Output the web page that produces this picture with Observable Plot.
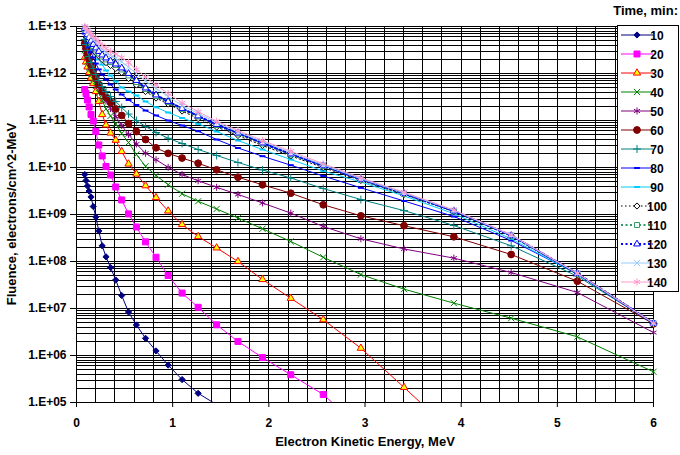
<!DOCTYPE html>
<html><head><meta charset="utf-8">
<script src="https://cdn.jsdelivr.net/npm/d3@7"></script>
<script src="https://cdn.jsdelivr.net/npm/@observablehq/plot@0.6"></script>
<style>
body{margin:0;background:#fff;}
#chart{position:relative;width:680px;height:455px;}
</style></head><body><div id="chart"></div>
<script>
// ---- data ----
const energy = [0.086, 0.099, 0.114, 0.131, 0.151, 0.174, 0.201, 0.232, 0.267, 0.307, 0.354, 0.408, 0.47, 0.541, 0.623, 0.718, 0.827, 0.953, 1.098, 1.265, 1.457, 1.679, 1.934, 2.228, 2.566, 2.957, 3.406, 3.924, 4.52, 5.208, 6.0];
const times = [10, 20, 30, 40, 50, 60, 70, 80, 90, 100, 110, 120, 130, 140];
const f10 = [7.10e9, 5.28e9, 4.04e9, 3.16e9, 2.36e9, 1.48e9, 8.85e8, 4.46e8, 2.16e8, 1.26e8, 7.45e7, 4.04e7, 1.89e7, 8.43e6, 4.46e6, 2.32e6, 1.25e6, 6.25e5, 3.08e5, 1.57e5, 9.0e4, null, null, null, null, null, null, null, null, null, null];
const f20 = [4.57e11, 3.75e11, 2.73e11, 1.94e11, 1.34e11, 9.76e10, 5.83e10, 3.01e10, 1.76e10, 1.05e10, 6.92e9, 3.85e9, 2.04e9, 1.03e9, 5.42e8, 2.62e8, 1.23e8, 5.04e7, 2.13e7, 1.06e7, 4.50e6, 1.99e6, 9.06e5, 3.90e5, 1.48e5, 2.80e4, null, null, null, null, null];
const f30 = [2.19e12, 1.76e12, 1.38e12, 1.05e12, 8.02e11, 6.12e11, 4.14e11, 2.54e11, 1.34e11, 8.02e10, 5.42e10, 3.81e10, 2.19e10, 1.19e10, 7.28e9, 4.10e9, 2.30e9, 1.19e9, 6.12e8, 3.40e8, 1.95e8, 1.00e8, 4.14e7, 1.65e7, 5.78e6, 1.43e6, 2.10e5, 2.19e4, null, null, null];
const f40 = [3.10e12, 2.40e12, 1.80e12, 1.35e12, 1.00e12, 7.50e11, 5.40e11, 3.85e11, 2.67e11, 1.77e11, 1.25e11, 8.43e10, 5.29e10, 3.40e10, 1.89e10, 1.06e10, 6.76e9, 4.31e9, 2.76e9, 1.91e9, 1.31e9, 8.43e8, 4.97e8, 2.67e8, 1.23e8, 5.28e7, 2.58e7, 1.30e7, 6.22e6, 2.50e6, 4.50e5];
const f50 = [3.60e12, 2.90e12, 2.25e12, 1.72e12, 1.30e12, 9.80e11, 7.20e11, 5.20e11, 3.75e11, 2.60e11, 1.80e11, 1.22e11, 7.83e10, 5.04e10, 3.16e10, 2.01e10, 1.46e10, 1.01e10, 7.10e9, 5.21e9, 3.79e9, 2.67e9, 1.76e9, 1.07e9, 5.56e8, 3.04e8, 1.85e8, 1.18e8, 5.83e7, 2.19e7, 3.08e6];
const f60 = [4.35e12, 3.40e12, 2.54e12, 1.99e12, 1.48e12, 1.16e12, 8.63e11, 5.83e11, 4.14e11, 3.08e11, 2.41e11, 1.76e11, 1.28e11, 8.63e10, 5.83e10, 3.94e10, 2.62e10, 2.00e10, 1.59e10, 1.23e10, 8.93e9, 6.22e9, 4.29e9, 2.84e9, 1.61e9, 9.38e8, 5.78e8, 3.36e8, 1.41e8, 3.81e7, 4.72e6];
const f70 = [5.29e12, 4.14e12, 3.08e12, 2.30e12, 1.71e12, 1.28e12, 9.52e11, 7.10e11, 5.29e11, 4.14e11, 3.24e11, 2.54e11, 1.89e11, 1.37e11, 1.00e11, 7.45e10, 5.56e10, 4.20e10, 3.24e10, 2.41e10, 1.80e10, 1.28e10, 8.85e9, 5.98e9, 3.57e9, 2.08e9, 1.21e9, 5.83e8, 2.16e8, 4.86e7, 4.86e6];
const f80 = [7.10e12, 5.83e12, 4.57e12, 3.57e12, 2.80e12, 2.19e12, 1.63e12, 1.22e12, 9.52e11, 7.45e11, 5.83e11, 4.57e11, 3.57e11, 2.73e11, 2.14e11, 1.63e11, 1.28e11, 1.00e11, 7.83e10, 5.92e10, 3.94e10, 2.60e10, 1.74e10, 1.12e10, 6.59e9, 3.70e9, 1.94e9, 9.06e8, 2.80e8, 5.47e7, 4.86e6];
const f90 = [8.22e12, 7.10e12, 5.83e12, 4.80e12, 3.94e12, 3.24e12, 2.54e12, 1.99e12, 1.55e12, 1.16e12, 9.06e11, 6.76e11, 5.04e11, 4.14e11, 3.40e11, 2.54e11, 1.91e11, 1.48e11, 1.13e11, 8.51e10, 5.83e10, 3.75e10, 2.41e10, 1.48e10, 8.43e9, 4.91e9, 2.48e9, 1.04e9, 3.04e8, 5.28e7, 4.86e6];
const f100 = [8.22e12, 6.92e12, 5.83e12, 4.91e12, 4.14e12, 3.40e12, 2.80e12, 2.36e12, 1.99e12, 1.71e12, 1.48e12, 1.28e12, 1.05e12, 7.83e11, 5.69e11, 4.14e11, 3.01e11, 2.24e11, 1.59e11, 1.10e11, 7.27e10, 4.80e10, 2.94e10, 1.76e10, 1.00e10, 5.29e9, 2.66e9, 1.16e9, 3.49e8, 5.42e7, 4.80e6];
const f110 = [8.63e12, 7.45e12, 6.43e12, 5.56e12, 4.68e12, 3.85e12, 3.24e12, 2.66e12, 2.30e12, 1.99e12, 1.76e12, 1.52e12, 1.22e12, 9.07e11, 6.59e11, 4.68e11, 3.32e11, 2.47e11, 1.76e11, 1.22e11, 8.02e10, 5.29e10, 3.24e10, 1.89e10, 1.08e10, 5.56e9, 2.76e9, 1.19e9, 3.57e8, 5.56e7, 4.86e6];
const f120 = [9.07e12, 7.83e12, 6.76e12, 5.83e12, 4.91e12, 4.14e12, 3.49e12, 2.94e12, 2.47e12, 2.14e12, 1.85e12, 1.59e12, 1.31e12, 1.00e12, 7.10e11, 4.91e11, 3.49e11, 2.54e11, 1.80e11, 1.25e11, 8.22e10, 5.42e10, 3.32e10, 1.94e10, 1.09e10, 5.61e9, 2.80e9, 1.19e9, 3.57e8, 5.56e7, 4.86e6];
const f130 = [9.52e12, 8.63e12, 7.64e12, 6.76e12, 5.98e12, 5.29e12, 4.57e12, 3.85e12, 3.24e12, 2.80e12, 2.42e12, 2.08e12, 1.76e12, 1.37e12, 1.00e12, 6.92e11, 4.80e11, 3.24e11, 2.08e11, 1.41e11, 9.07e10, 5.69e10, 3.57e10, 2.08e10, 1.13e10, 5.75e9, 2.87e9, 1.22e9, 3.61e8, 5.56e7, 4.86e6];
const f140 = [1.00e13, 9.29e12, 8.42e12, 7.64e12, 6.92e12, 6.13e12, 5.42e12, 4.68e12, 3.94e12, 3.40e12, 2.94e12, 2.60e12, 2.19e12, 1.71e12, 1.22e12, 8.42e11, 5.69e11, 3.75e11, 2.36e11, 1.55e11, 9.66e10, 6.13e10, 3.75e10, 2.22e10, 1.20e10, 6.04e9, 2.98e9, 1.25e9, 3.70e8, 5.64e7, 4.86e6];
const fluence = [f10, f20, f30, f40, f50, f60, f70, f80, f90, f100, f110, f120, f130, f140];
const xTicks = [0, 1, 2, 3, 4, 5, 6];
const xTickLabels = ["0", "1", "2", "3", "4", "5", "6"];
const yTicks = [1e5, 1e6, 1e7, 1e8, 1e9, 1e10, 1e11, 1e12, 1e13];
const yTickLabels = ["1.E+05", "1.E+06", "1.E+07", "1.E+08", "1.E+09", "1.E+10", "1.E+11", "1.E+12", "1.E+13"];
const xTitle = "Electron Kinetic Energy, MeV";
const yTitle = "Fluence, electrons/cm^2-MeV";
const legendTitle = "Time, min:";

// ---- styles ----
const dashSym = {draw(ctx, size) { const w = Math.sqrt(size) * 0.75; ctx.moveTo(-w, -1); ctx.lineTo(w, -1); ctx.lineTo(w, 1); ctx.lineTo(-w, 1); ctx.closePath(); }};
const S = {
  10: {c: "#000080", sym: "diamond2", fill: "#000080", stroke: "#000080", r: 2.8},
  20: {c: "#FF00FF", sym: "square", fill: "#FF00FF", stroke: "#FF00FF", r: 3.4},
  30: {c: "#FF0000", sym: "triangle", fill: "#FFFF00", stroke: "#FF0000", r: 2.7},
  40: {c: "#008000", sym: "times", fill: "none", stroke: "#008000", r: 2.9},
  50: {c: "#800080", sym: "asterisk", fill: "none", stroke: "#800080", r: 3.3},
  60: {c: "#800000", sym: "circle", fill: "#800000", stroke: "#800000", r: 3.4},
  70: {c: "#008080", sym: "plus", fill: "none", stroke: "#008080", r: 2.7},
  80: {c: "#0000FF", sym: dashSym, fill: "#0000FF", stroke: "none", r: 2.2},
  90: {c: "#00CCFF", sym: dashSym, fill: "#00CCFF", stroke: "none", r: 2.2},
  100: {c: "#000000", dash: "1.5,2.5", w: 1, sym: "diamond2", fill: "#FFFFFF", stroke: "#000000", r: 2.8},
  110: {c: "#339966", dash: "2,2.5", w: 2, sym: "square", fill: "#FFFFFF", stroke: "#339966", r: 2.8},
  120: {c: "#0000FF", dash: "2,2.5", w: 2, sym: "triangle", fill: "#FFFFFF", stroke: "#0000FF", r: 2.5},
  130: {c: "#99CCFF", sym: "times", fill: "none", stroke: "#99CCFF", r: 3.0},
  140: {c: "#FF99CC", sym: "asterisk", fill: "none", stroke: "#FF99CC", r: 3.4}
};

const rows = [];
times.forEach((t, k) => energy.forEach((e, i) => { const v = fluence[k][i]; if (v != null) rows.push({t, e, f: v}); }));

// gridline positions
const vGrid = d3.range(1, 30).map(i => i * 0.2);
const hGrid = [];
for (let p = 5; p < 13; p++) for (let m = 1; m <= 9; m++) hGrid.push(m * Math.pow(10, p));
hGrid.push(1e13);

const marks = [
  Plot.ruleX(vGrid, {stroke: "#000", strokeWidth: 1, shapeRendering: "crispEdges"}),
  Plot.ruleY(hGrid, {stroke: "#000", strokeWidth: 1, shapeRendering: "crispEdges"}),
  Plot.frame({stroke: "#000", shapeRendering: "crispEdges"})
];
for (const t of times) {
  const s = S[t];
  const r = rows.filter(d => d.t === t);
  marks.push(Plot.line(r, {x: "e", y: "f", stroke: s.c, strokeWidth: s.w || 1, strokeDasharray: s.dash, clip: true}));
  marks.push(Plot.dot(r.filter(d => d.f >= 1e5 && d.f <= 1e13), {x: "e", y: "f", symbol: s.sym, r: s.r, fill: s.fill, stroke: s.stroke, strokeWidth: 1}));
}

const svg = Plot.plot({
  width: 680, height: 455,
  marginLeft: 76, marginRight: 27, marginTop: 26, marginBottom: 53,
  style: {fontFamily: "'Liberation Sans', Arial, sans-serif", fontSize: "12px", fontWeight: "bold", background: "#fff", color: "#000"},
  x: {domain: [0, 6], ticks: xTicks, tickFormat: d => xTickLabels[xTicks.indexOf(d)], tickSize: 5, tickPadding: 11, label: null},
  y: {type: "log", domain: [1e5, 1e13], ticks: yTicks, tickFormat: d => yTickLabels[yTicks.indexOf(d)], tickSize: 6, tickPadding: 4, label: null},
  marks
});
document.getElementById("chart").appendChild(svg);

// titles and legend
const g = d3.select(svg);
g.append("text").attr("x", 365).attr("y", 446).attr("text-anchor", "middle").style("font-size", "13px").style("font-weight", "bold").text(xTitle);
g.append("text").attr("transform", "translate(16,214) rotate(-90)").attr("text-anchor", "middle").style("font-size", "13px").style("font-weight", "bold").text(yTitle);
g.append("text").attr("x", 678).attr("y", 15).attr("text-anchor", "end").style("font-size", "13px").style("font-weight", "bold").text(legendTitle);
const lg = g.append("g");
lg.append("rect").attr("x", 617.5).attr("y", 25.5).attr("width", 61).attr("height", 266).attr("fill", "#fff").attr("stroke", "#000");
const symMap = {diamond2: d3.symbolDiamond2, square: d3.symbolSquare, triangle: d3.symbolTriangle, times: d3.symbolTimes, asterisk: d3.symbolAsterisk, circle: d3.symbolCircle, plus: d3.symbolPlus};
times.forEach((t, i) => {
  const s = S[t], y = 35 + 19 * i;
  lg.append("line").attr("x1", 621).attr("x2", 653).attr("y1", y).attr("y2", y).attr("stroke", s.c).attr("stroke-width", s.w || 1).attr("stroke-dasharray", s.dash || null);
  const type = typeof s.sym === "string" ? symMap[s.sym] : s.sym;
  lg.append("path").attr("transform", `translate(637,${y})`).attr("d", d3.symbol(type, Math.PI * s.r * s.r)()).attr("fill", s.fill).attr("stroke", s.stroke).attr("stroke-width", 1);
  lg.append("text").attr("x", 657).attr("y", y + 4.5).style("font-size", "12px").style("font-weight", "bold").text(String(t));
});
</script></body></html>
